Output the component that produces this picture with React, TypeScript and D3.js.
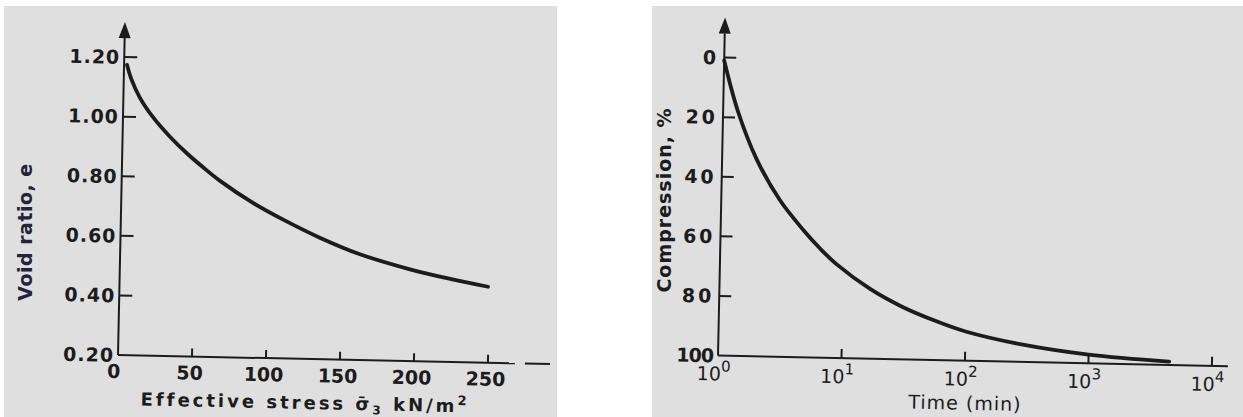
import * as d3 from "d3";

// Left chart: void ratio vs effective stress
const stress = [2, 5, 11, 20, 32, 44, 55, 66, 89, 112, 135, 162, 196, 224, 249];
const voidRatio = [1.174, 1.128, 1.066, 1.002, 0.936, 0.88, 0.835, 0.793, 0.72, 0.66, 0.607, 0.555, 0.508, 0.478, 0.455];
const stressTicks = [0, 50, 100, 150, 200, 250];
const voidTicks = [0.2, 0.4, 0.6, 0.8, 1.0, 1.2];

// Right chart: compression vs time (log)
const timeMin = [1, 1.32, 1.91, 2.99, 4.65, 6.43, 8.83, 16.6, 30.9, 58, 100, 300, 1000, 4500];
const compression = [1, 18, 34, 47.5, 57.2, 63.4, 68.6, 76.6, 82.5, 87, 90.2, 94.3, 97.1, 98.9];
const timeExp = [0, 1, 2, 3, 4];
const compTicks = [0, 20, 40, 60, 80, 100];

const ink = "#1c1c1c";
const paper = "#dfdfdf";
const font = "DejaVu Sans";
const tilt = 1.2; // scanned page is slightly rotated

const App = () => {
  // left scales
  const xL = d3.scaleLinear().domain([0, 250]).range([0, 370]);
  const yL = d3.scaleLinear().domain([0.2, 1.2]).range([0, -298]);
  const lineL = d3
    .line<number>()
    .x((d, i) => xL(stress[i]))
    .y((d) => yL(d))
    .curve(d3.curveCatmullRom.alpha(0.5));

  // right scales
  const xR = d3.scaleLog().domain([1, 10000]).range([0, 494]);
  const yR = d3.scaleLinear().domain([100, 0]).range([0, -298]);
  const lineR = d3
    .line<number>()
    .x((d, i) => xR(timeMin[i]))
    .y((d) => yR(d))
    .curve(d3.curveCatmullRom.alpha(0.5));

  const arrow = (tip: number) => `M0,${tip} L-6,${tip + 16} L6,${tip + 16} Z`;

  return (
    <svg
      width={1243}
      height={417}
      style={{ position: "absolute", left: 0, top: 0 }}
      fontFamily={font}
    >
      <rect x={0} y={0} width={1243} height={417} fill="#ffffff" />
      <rect x={4} y={6} width={553} height={411} fill={paper} />
      <rect x={652} y={6} width={591} height={411} fill={paper} />

      {/* left chart */}
      <g transform={`translate(118,355) rotate(${tilt})`}>
        <line x1={0} y1={0} x2={0} y2={-322} stroke={ink} strokeWidth={2} />
        <path d={arrow(-333)} fill={ink} />
        <line x1={0} y1={0} x2={397} y2={0} stroke={ink} strokeWidth={2} />
        <line x1={407} y1={0} x2={432} y2={0} stroke={ink} strokeWidth={2} />
        {voidTicks.slice(1).map((t) => (
          <line key={t} x1={0} x2={13} y1={yL(t)} y2={yL(t)} stroke={ink} strokeWidth={2} />
        ))}
        {stressTicks.slice(1).map((t) => (
          <line key={t} x1={xL(t)} x2={xL(t)} y1={0} y2={-8} stroke={ink} strokeWidth={2} />
        ))}
        {voidTicks.map((t) => (
          <text
            key={t}
            x={-4}
            y={yL(t)}
            dy="0.36em"
            textAnchor="end"
            fontSize={19}
            fontWeight="bold"
            fill={ink}
            letterSpacing={1}
          >
            {t.toFixed(2)}
          </text>
        ))}
        {stressTicks.map((t) => (
          <text
            key={t}
            x={xL(t) - (t === 0 ? 4 : 2)}
            y={23}
            textAnchor="middle"
            fontSize={19}
            fontWeight="bold"
            fill={ink}
          >
            {t}
          </text>
        ))}
        <path d={lineL(voidRatio) ?? ""} fill="none" stroke={ink} strokeWidth={3.8} strokeLinecap="round" />
        <text
          x={188}
          y={50}
          textAnchor="middle"
          fontSize={18}
          fontWeight="bold"
          fill={ink}
          letterSpacing={3}
        >
          Effective stress σ̄
          <tspan fontSize={12} dy={4}>3</tspan>
          <tspan dy={-4}> kN/m</tspan>
          <tspan fontSize={13} dy={-7}>2</tspan>
        </text>
      </g>
      <text
        transform="translate(32,232) rotate(-90)"
        textAnchor="middle"
        fontSize={19}
        fontWeight="bold"
        fill="#23233a"
        letterSpacing={0.5}
      >
        Void ratio, e
      </text>

      {/* right chart */}
      <g transform={`translate(718,355.5) rotate(${tilt})`}>
        <line x1={0} y1={0} x2={0} y2={-322} stroke={ink} strokeWidth={2} />
        <path d={arrow(-338)} fill={ink} />
        <line x1={0} y1={0} x2={510} y2={0} stroke={ink} strokeWidth={2} />
        {compTicks.slice(0, -1).map((t) => (
          <line key={t} x1={0} x2={12} y1={yR(t)} y2={yR(t)} stroke={ink} strokeWidth={2} />
        ))}
        {timeExp.slice(1).map((p) => (
          <line
            key={p}
            x1={xR(Math.pow(10, p))}
            x2={xR(Math.pow(10, p))}
            y1={0}
            y2={-9}
            stroke={ink}
            strokeWidth={2}
          />
        ))}
        {compTicks.map((t) => (
          <text
            key={t}
            x={-5}
            y={yR(t)}
            dy="0.36em"
            textAnchor="end"
            fontSize={19}
            fontWeight="bold"
            fill={ink}
            letterSpacing={t === 100 ? -1 : 3}
          >
            {t}
          </text>
        ))}
        {timeExp.map((p) => (
          <text
            key={p}
            x={xR(Math.pow(10, p)) - 4}
            y={25}
            textAnchor="middle"
            fontSize={19}
            fill={ink}
          >
            10
            <tspan fontSize={15} dy={-9}>{p}</tspan>
          </text>
        ))}
        <path d={lineR(compression) ?? ""} fill="none" stroke={ink} strokeWidth={3.8} strokeLinecap="round" />
        <text x={248} y={49} textAnchor="middle" fontSize={19} fill={ink} letterSpacing={1}>
          Time (min)
        </text>
      </g>
      <text
        transform="translate(671,200) rotate(-90)"
        textAnchor="middle"
        fontSize={19}
        fontWeight="bold"
        fill={ink}
        letterSpacing={1}
      >
        Compression, %
      </text>
    </svg>
  );
};

export default App;
